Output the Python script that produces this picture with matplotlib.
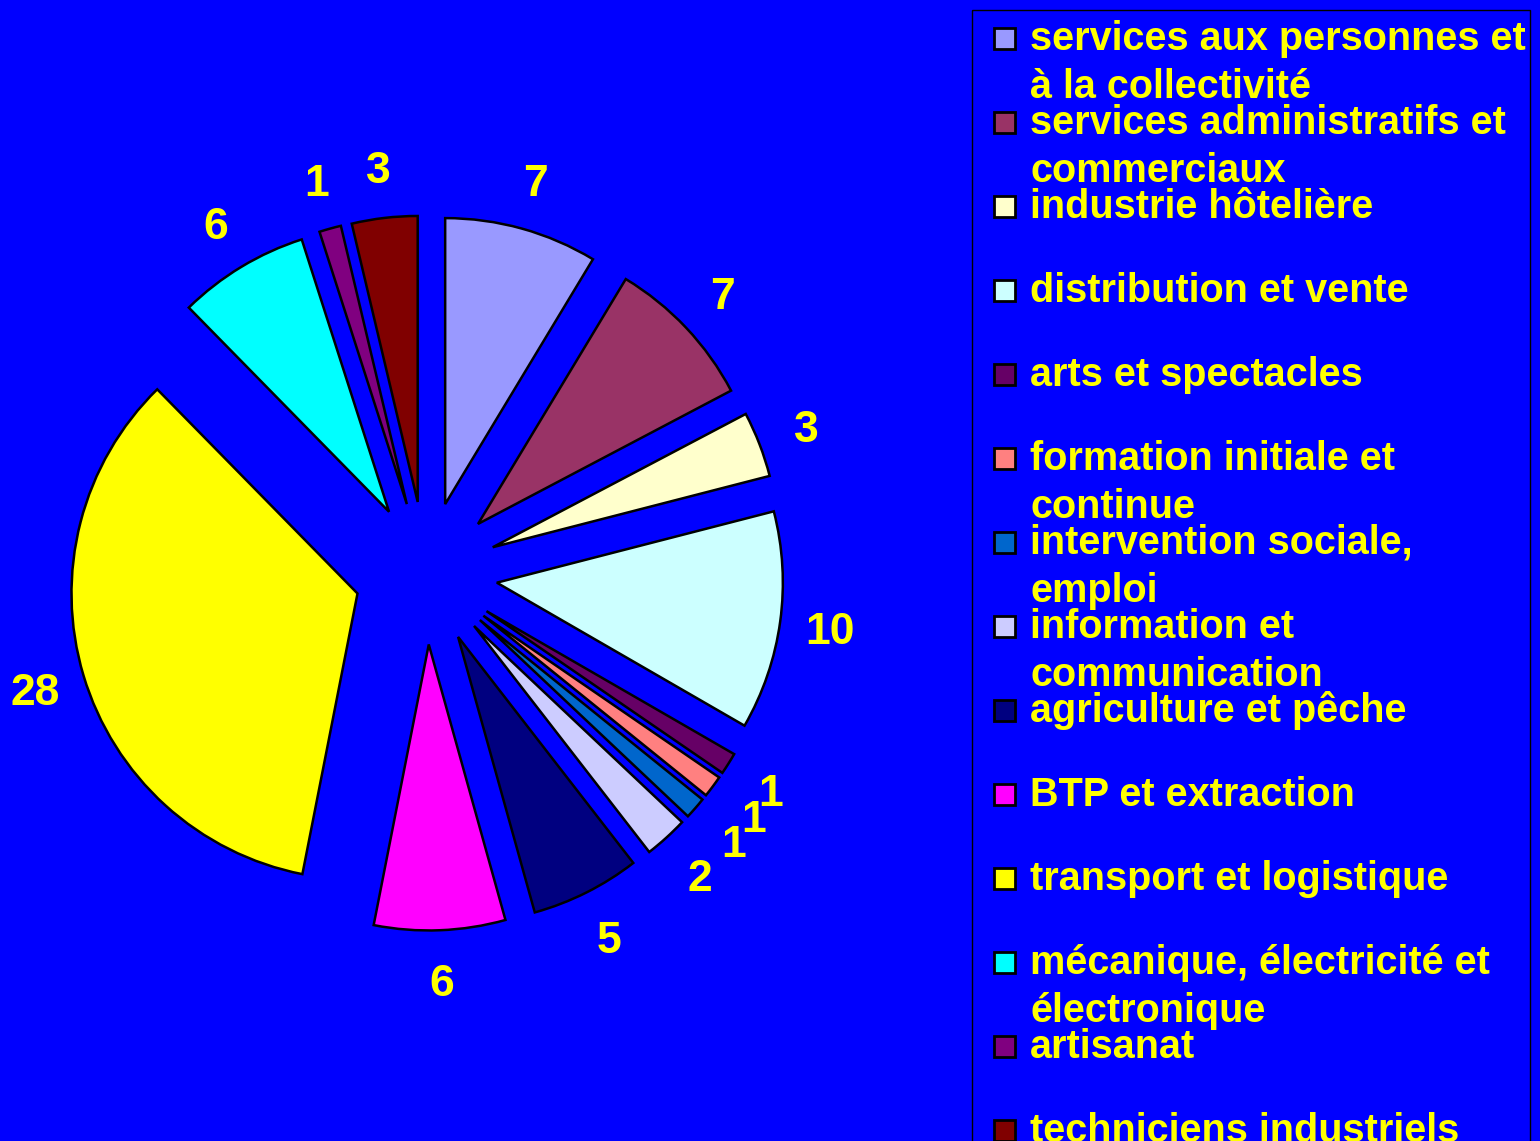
import matplotlib.pyplot as plt
from matplotlib.patches import Rectangle
from matplotlib.transforms import offset_copy

plt.rcParams["font.family"] = ["Liberation Sans", "DejaVu Sans"]

categories = [
    "services aux personnes et\nà la collectivité",
    "services administratifs et\ncommerciaux",
    "industrie hôtelière",
    "distribution et vente",
    "arts et spectacles",
    "formation initiale et\ncontinue",
    "intervention sociale,\nemploi",
    "information et\ncommunication",
    "agriculture et pêche",
    "BTP et extraction",
    "transport et logistique",
    "mécanique, électricité et\nélectronique",
    "artisanat",
    "techniciens industriels",
]
values = [7, 7, 3, 10, 1, 1, 1, 2, 5, 6, 28, 6, 1, 3]
colors = ["#9999FF", "#993366", "#FFFFCC", "#CCFFFF", "#660066", "#FF8080",
          "#0066CC", "#CCCCFF", "#000080", "#FF00FF", "#FFFF00", "#00FFFF",
          "#800080", "#800000"]

W, H = 1540, 1141
fig = plt.figure(figsize=(W / 100, H / 100), dpi=100, facecolor="#0000FF")

# pie axes: one data unit = pie radius in px, centre placed at (cx, cy) px
R = 286
cx, cy = 426, 573
ax = fig.add_axes([0, 0, 1, 1])
ax.set_facecolor("#0000FF")
wedges, texts = ax.pie(values, colors=colors, labels=[str(v) for v in values],
                       explode=[0.25] * len(values), startangle=90,
                       counterclock=False, labeldistance=1.176,
                       wedgeprops=dict(edgecolor="black", linewidth=1.8),
                       textprops=dict(color="#FFFF00", fontsize=32,
                                      fontweight="bold",
                                      ha="center", va="center"))
# centre the digits visually on their anchor point
for t in texts:
    t.set_transform(offset_copy(t.get_transform(), fig=fig, y=-4, units="dots"))
ax.set_xlim(-cx / R, (W - cx) / R)
ax.set_ylim(-(H - cy) / R, cy / R)
ax.set_aspect("equal")
ax.axis("off")

# legend drawn in pixel coordinates
lg = fig.add_axes([0, 0, 1, 1], zorder=3)
lg.set_facecolor("none")
lg.set_xlim(0, W)
lg.set_ylim(H, 0)
lg.axis("off")
lg.add_patch(Rectangle((972, 10), 558, 1200, facecolor="none",
                       edgecolor="black", linewidth=1))
for i, (name, c) in enumerate(zip(categories, colors)):
    y0 = 38 + 84 * i
    lg.add_patch(Rectangle((994, y0 - 10), 21, 21, facecolor=c,
                           edgecolor="black", linewidth=2))
    for j, line in enumerate(name.split("\n")):
        lg.text(1030, y0 + 12 + 48 * j, line, color="#FFFF00", fontsize=28.5,
                fontweight="bold", ha="left", va="baseline")

fig.savefig("out.png", dpi=100, facecolor="#0000FF")
